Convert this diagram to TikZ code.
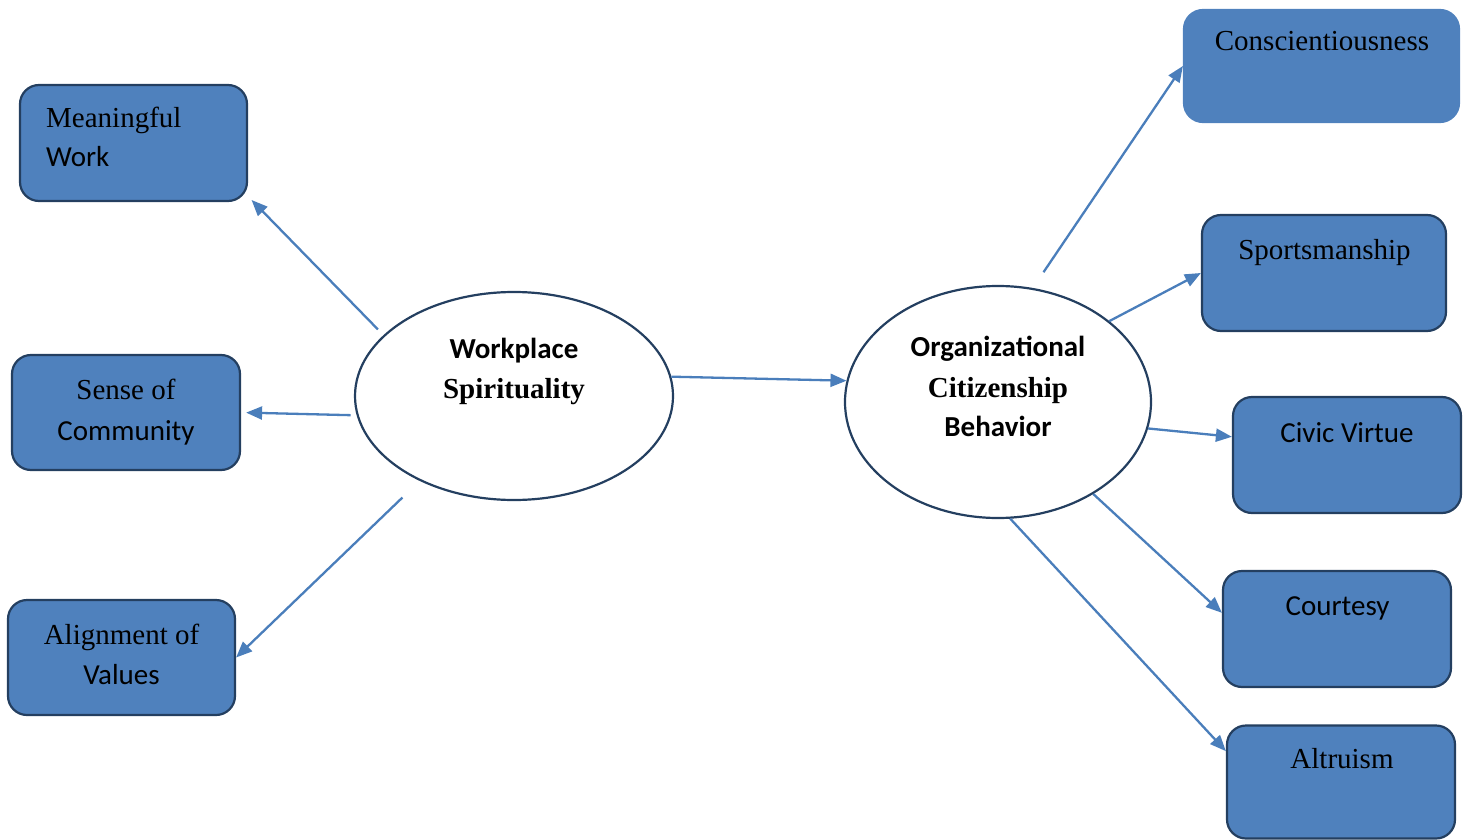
\documentclass[tikz,border=0pt]{standalone}
\usepackage{fontspec}
\setmainfont{Liberation Serif}
\newfontfamily\calib{Carlito}
\usetikzlibrary{arrows.meta,shapes.geometric}
\definecolor{boxfill}{HTML}{4F81BD}
\definecolor{boxedge}{HTML}{243F60}
\definecolor{linkcol}{HTML}{4A7EBB}
\begin{document}
\begin{tikzpicture}[x=1pt,y=-1pt,
  dimbox/.style={draw=boxedge,line width=2.2pt,fill=boxfill,rounded corners=19pt,
    minimum width=#1,inner sep=0pt},
  construct/.style={draw=boxedge,line width=2.2pt,fill=white,ellipse,inner sep=0pt},
  ln/.style={anchor=base,inner sep=0pt,font=\fontsize{29}{35}\selectfont},
  sn/.style={ln,font=\fontsize{29}{35}\selectfont\calib},
  lnb/.style={ln,font=\fontsize{29}{35}\selectfont\bfseries},
  snb/.style={ln,font=\fontsize{29}{35}\selectfont\calib\bfseries},
  link/.style={draw=linkcol,line width=2.3pt,-{Triangle[length=16pt,width=13pt]}}]
\useasboundingbox (0,0) rectangle (1467,840);

% the two constructs
\node[construct,minimum width=318,minimum height=208] (ws) at (514,396) {};
\node[construct,minimum width=306,minimum height=232] (ocb) at (998,402) {};
\node[snb] (wst1) at (514,358) {Workplace};
\node[lnb] (wst2) at (514,398) {Spirituality};
\node[snb] (ocbt1) at (998,356) {Organizational};
\node[lnb] (ocbt2) at (998,397) {Citizenship};
\node[snb] (ocbt3) at (998,436) {Behavior};

% dimensions of workplace spirituality
\node[dimbox=227,minimum height=116] (mw) at (133.5,143) {};
\node[ln,anchor=base west] (mwt1) at (46,128) {Meaningful};
\node[sn,anchor=base west] (mwt2) at (46,167) {Work};
\node[dimbox=228,minimum height=115] (sc) at (126,412.5) {};
\node[ln] (sct1) at (126,399) {Sense of};
\node[sn] (sct2) at (126,440) {Community};
\node[dimbox=227,minimum height=115] (av) at (121.5,657.5) {};
\node[ln] (avt1) at (121.5,644) {Alignment of};
\node[sn] (avt2) at (121.5,684) {Values};

% dimensions of organizational citizenship behavior
\node[dimbox=275,minimum height=112,draw=boxfill] (cs) at (1321.5,66) {};
\node[ln] (cst) at (1322,51) {Conscientiousness};
\node[dimbox=244,minimum height=116] (sp) at (1324,273) {};
\node[ln] (spt) at (1324.5,259) {Sportsmanship};
\node[dimbox=228,minimum height=116] (cv) at (1347,455) {};
\node[sn] (cvt) at (1347,442) {Civic Virtue};
\node[dimbox=228,minimum height=116] (ct) at (1337,629) {};
\node[sn] (ctt) at (1337.5,615) {Courtesy};
\node[dimbox=228,minimum height=113] (al) at (1341,782) {};
\node[ln] (alt) at (1342,768) {Altruism};

% connectors
\draw[link,shorten <=8pt,shorten >=5pt] (ws.155) -- (mw.-25);
\draw[link,shorten <=6pt,shorten >=5pt] (ws.187) -- (sc.east);
\draw[link,shorten <=24pt] (ws.222) -- (av.east);
\draw[link] (ws.7) -- (ocb.172);
\draw[link,shorten <=19pt] (ocb.73) -- (cs.west);
\draw[link] (ocb.36) -- (sp.west);
\draw[link] (ocb.350) -- (cv.171);
\draw[link] (ocb.316) -- (ct.172);
\draw[link] (ocb.276) -- (al.165);
\end{tikzpicture}
\end{document}
